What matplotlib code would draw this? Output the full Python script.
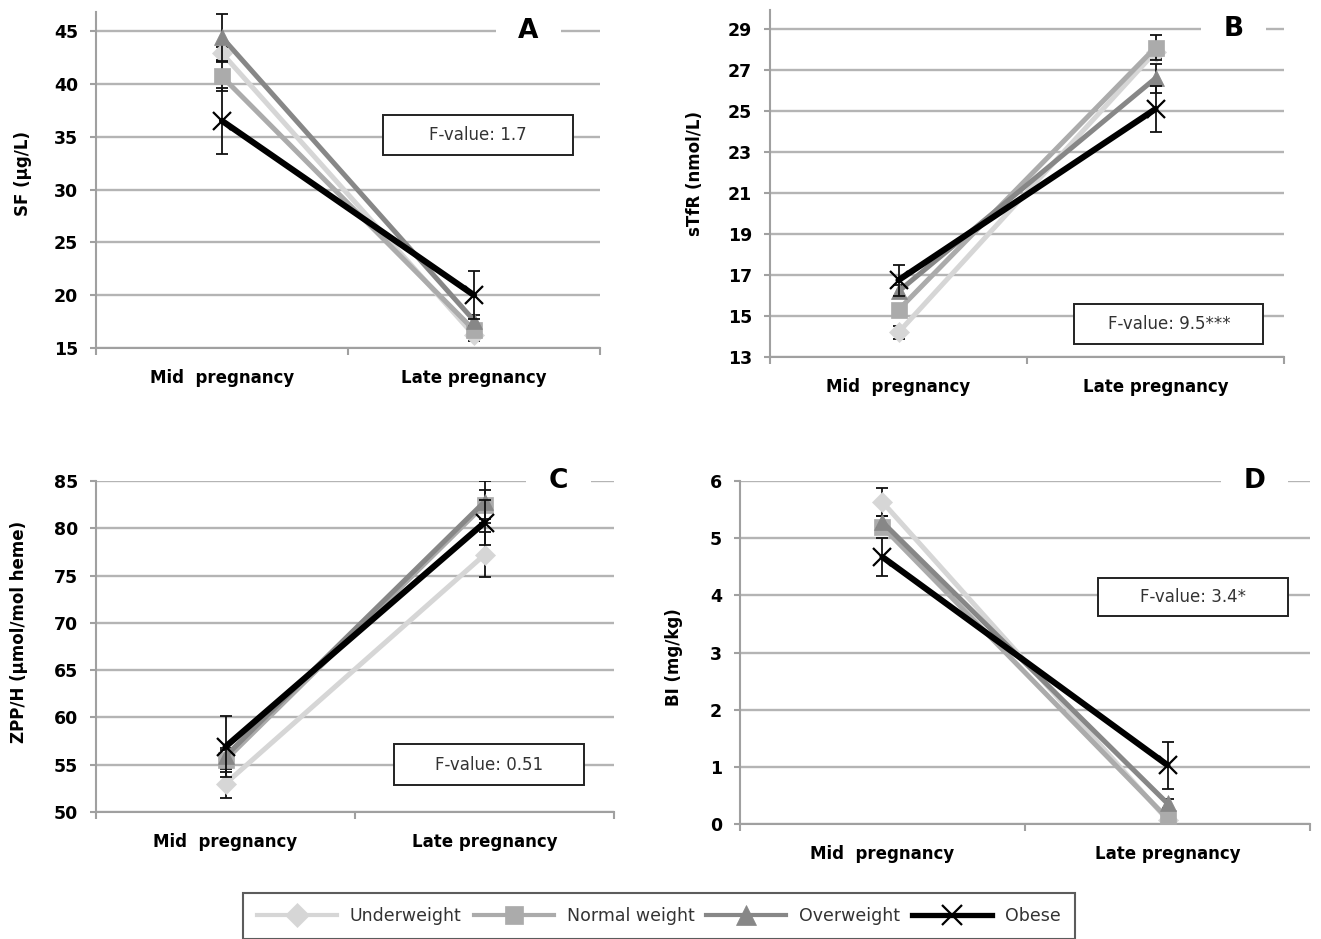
import matplotlib
matplotlib.use('Agg')
import matplotlib.pyplot as plt
from matplotlib.lines import Line2D
from matplotlib.patches import Rectangle
from matplotlib.transforms import blended_transform_factory
import numpy as np

plt.rcParams['font.family'] = ['DejaVu Sans']

# ---------------- data ----------------
periods = ['Mid  pregnancy', 'Late pregnancy']
groups = ['Underweight', 'Normal weight', 'Overweight', 'Obese']

# Panel A: SF (ug/L)
sf_under = [42.9, 16.2]
sf_normal = [40.7, 16.7]
sf_over = [44.4, 17.6]
sf_obese = [36.5, 20.0]
sf_err_under = [0.6, 0.5]
sf_err_normal = [1.4, 0.5]
sf_err_over = [2.2, 0.5]
sf_err_obese = [3.1, 2.3]

# Panel B: sTfR (nmol/L)
stfr_under = [14.2, 27.9]
stfr_normal = [15.3, 28.1]
stfr_over = [16.2, 26.6]
stfr_obese = [16.75, 25.1]
stfr_err_under = [0.3, 0.3]
stfr_err_normal = [0.3, 0.6]
stfr_err_over = [0.3, 0.7]
stfr_err_obese = [0.75, 1.1]

# Panel C: ZPP/H (umol/mol heme)
zpp_under = [53.0, 77.2]
zpp_normal = [55.5, 82.5]
zpp_over = [55.9, 82.8]
zpp_obese = [56.9, 80.6]
zpp_err_under = [1.5, 2.4]
zpp_err_normal = [1.3, 1.5]
zpp_err_over = [0.7, 2.2]
zpp_err_obese = [3.2, 2.4]

# Panel D: BI (mg/kg)
bi_under = [5.63, 0.07]
bi_normal = [5.20, 0.10]
bi_over = [5.28, 0.36]
bi_obese = [4.67, 1.03]
bi_err_under = [0.25, 0.05]
bi_err_normal = [0.1, 0.05]
bi_err_over = [0.1, 0.08]
bi_err_obese = [0.34, 0.41]

panels = [
    dict(letter='A', ylabel='SF (μg/L)', fval='F-value: 1.7',
         series=[sf_under, sf_normal, sf_over, sf_obese],
         errs=[sf_err_under, sf_err_normal, sf_err_over, sf_err_obese],
         ylim=(15, 46.8), ticks=np.arange(15, 46, 5)),
    dict(letter='B', ylabel='sTfR (nmol/L)', fval='F-value: 9.5***',
         series=[stfr_under, stfr_normal, stfr_over, stfr_obese],
         errs=[stfr_err_under, stfr_err_normal, stfr_err_over, stfr_err_obese],
         ylim=(13, 29.93), ticks=np.arange(13, 30, 2)),
    dict(letter='C', ylabel='ZPP/H (μmol/mol heme)', fval='F-value: 0.51',
         series=[zpp_under, zpp_normal, zpp_over, zpp_obese],
         errs=[zpp_err_under, zpp_err_normal, zpp_err_over, zpp_err_obese],
         ylim=(50, 85), ticks=np.arange(50, 86, 5)),
    dict(letter='D', ylabel='BI (mg/kg)', fval='F-value: 3.4*',
         series=[bi_under, bi_normal, bi_over, bi_obese],
         errs=[bi_err_under, bi_err_normal, bi_err_over, bi_err_obese],
         ylim=(0, 6), ticks=np.arange(0, 7, 1)),
]

# ---------------- layout / style ----------------
W, H = 1321, 939
# axes rectangles in pixels: left, top, right, bottom
ax_px = [(96, 12, 600, 348), (770, 10, 1284, 357),
         (96, 481, 614, 812), (740, 481, 1310, 824)]
# F-value boxes in axes fraction: x0, y0, x1, y1
fbox = [(0.569, 0.575, 0.946, 0.692), (0.592, 0.038, 0.960, 0.152),
        (0.575, 0.083, 0.943, 0.204), (0.628, 0.607, 0.962, 0.718)]
letter_x = [0.858, 0.902, 0.893, 0.902]
ylabel_pos = [(-0.126, 0.52), (-0.129, 0.53), (-0.131, 0.544), (-0.100, 0.487)]

colors = ['#d6d6d6', '#ababab', '#878787', '#000000']
markers = ['D', 's', '^', 'x']
msizes = [10, 11, 12, 13]
lws = [3.6, 3.6, 3.6, 4.4]
axis_col = '#a0a0a0'

fig = plt.figure(figsize=(W / 100, H / 100), dpi=100)
xpos = np.arange(len(periods))

for i, p in enumerate(panels):
    l, t, r, b = ax_px[i]
    ax = fig.add_axes([l / W, 1 - b / H, (r - l) / W, (b - t) / H])
    ax.set_xlim(-0.5, 1.5)
    ax.set_ylim(*p['ylim'])
    ax.set_yticks(p['ticks'])
    ax.yaxis.grid(True, color='#b4b4b4', lw=1.7)
    ax.set_axisbelow(True)
    for s in ['top', 'right']:
        ax.spines[s].set_visible(False)
    for s in ['left', 'bottom']:
        ax.spines[s].set_color(axis_col)
        ax.spines[s].set_linewidth(1.5)
    ax.set_xticks([-0.5, 0.5, 1.5])
    ax.set_xticklabels([])
    ax.set_xticks(xpos, minor=True)
    ax.set_xticklabels(periods, minor=True, fontweight='bold', fontsize=12)
    ax.tick_params(axis='x', which='major', length=5, color=axis_col, width=1.5)
    ax.tick_params(axis='x', which='minor', length=0, pad=15)
    ax.tick_params(axis='y', length=4, color=axis_col, width=1.5, pad=9, labelsize=12.5)
    for lbl in ax.get_yticklabels():
        lbl.set_fontweight('bold')
    ax.set_ylabel(p['ylabel'], fontweight='bold', fontsize=12)
    ax.yaxis.set_label_coords(*ylabel_pos[i])

    for k, (vals, err) in enumerate(zip(p['series'], p['errs'])):
        z = 3 + k
        ax.errorbar(xpos, vals, yerr=err, fmt='none', ecolor='#111111',
                    elinewidth=1.3, capsize=4, capthick=1.3, zorder=z)
        mew = 1.6 if markers[k] == 'x' else 0.5
        ax.plot(xpos, vals, color=colors[k], lw=lws[k], marker=markers[k],
                ms=msizes[k], mfc=colors[k], mec=colors[k], mew=mew,
                zorder=z + 0.5, solid_capstyle='round')

    # panel letter breaking the top gridline
    tr = blended_transform_factory(ax.transAxes, ax.transData)
    ax.text(letter_x[i], p['ticks'][-1], p['letter'], transform=tr,
            ha='center', va='center', fontsize=19, fontweight='bold',
            bbox=dict(boxstyle='square,pad=0.85', fc='white', ec='none'),
            zorder=2.5)

    # F-value box
    x0, y0, x1, y1 = fbox[i]
    ax.add_patch(Rectangle((x0, y0), x1 - x0, y1 - y0, transform=ax.transAxes,
                           fc='white', ec='#222222', lw=1.4, zorder=10))
    ax.text((x0 + x1) / 2, (y0 + y1) / 2, p['fval'], transform=ax.transAxes,
            ha='center', va='center', fontsize=12, color='#333333', zorder=11)

handles = []
for k in range(4):
    mew = 1.6 if markers[k] == 'x' else 0.5
    handles.append(Line2D([], [], color=colors[k], lw=lws[k] - 0.6, marker=markers[k],
                          ms=msizes[k] + 2, mfc=colors[k], mec=colors[k], mew=mew))
leg = fig.legend(handles, groups, loc='upper left',
                 bbox_to_anchor=(243 / W, 1 - 893 / H), ncol=4, frameon=True,
                 fancybox=False, edgecolor='#333333', handlelength=4.6,
                 handletextpad=0.75, columnspacing=0.7, fontsize=12.5,
                 borderpad=0.8, borderaxespad=0, numpoints=1)
leg.get_frame().set_linewidth(1.5)
for txt in leg.get_texts():
    txt.set_color('#333333')

fig.savefig('out.png', dpi=100)
